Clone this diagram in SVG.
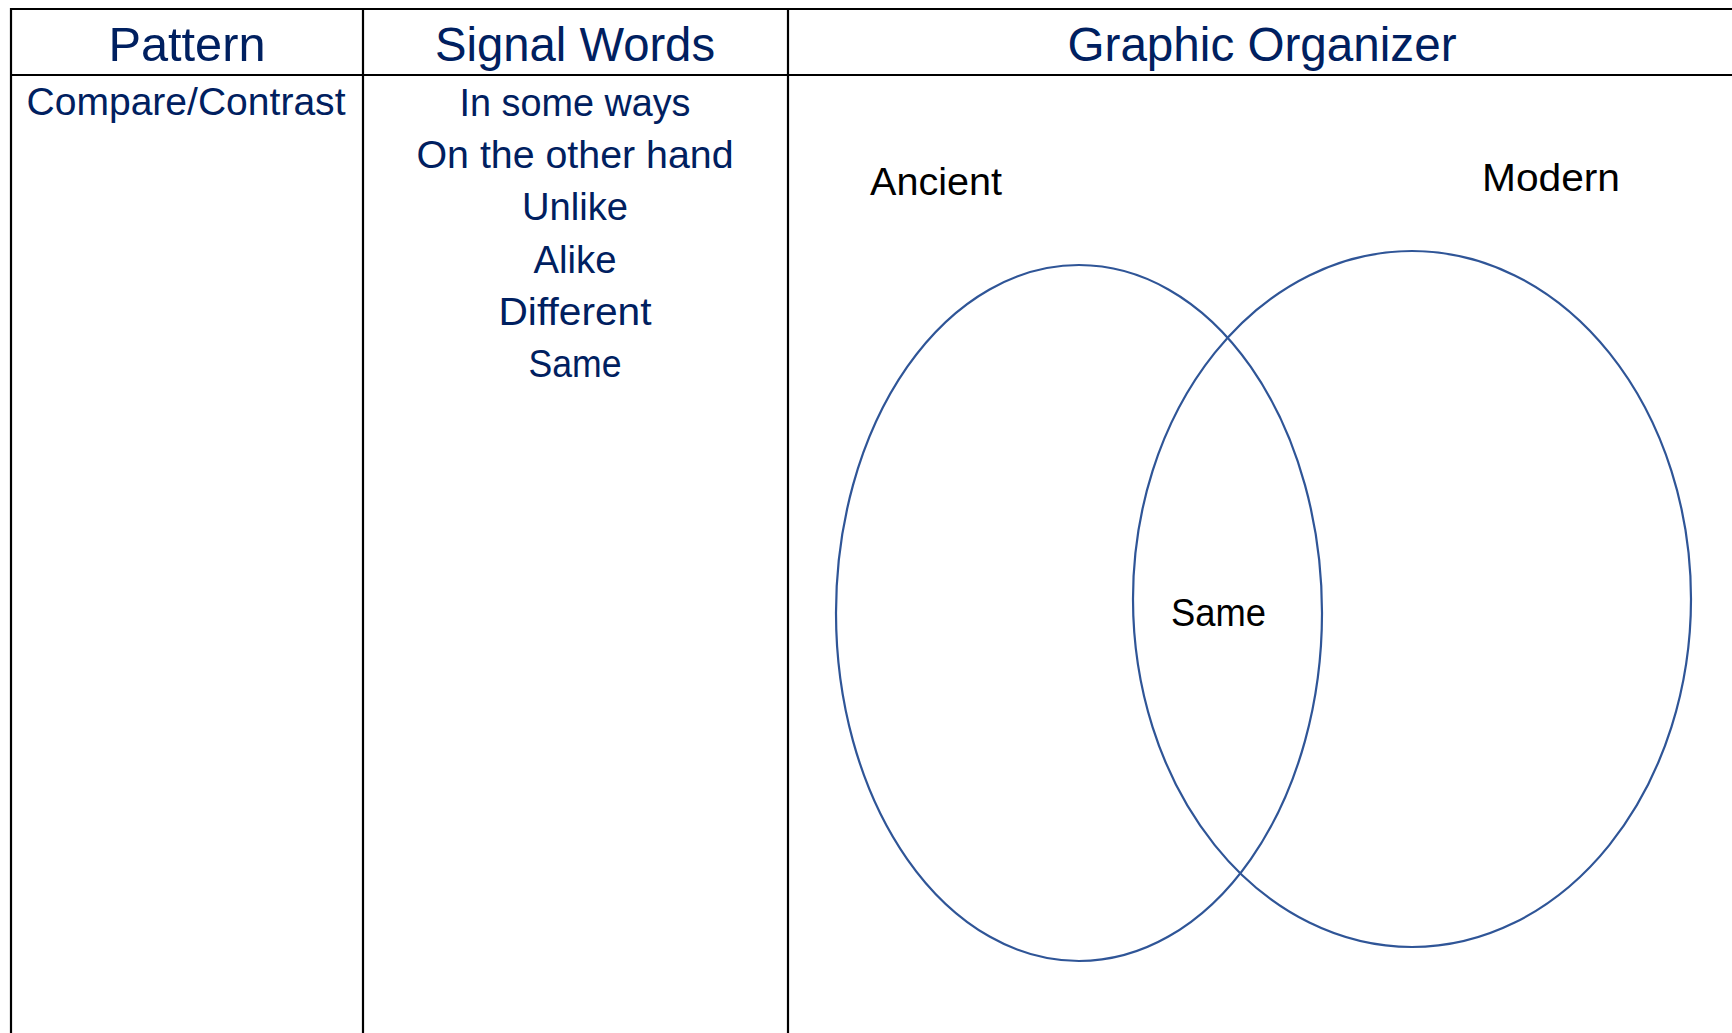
<svg xmlns="http://www.w3.org/2000/svg" width="1732" height="1033" viewBox="0 0 1732 1033">
  <style>
    .grid { stroke: #000000; stroke-width: 2.2; fill: none; }
    .head { font-family: "Liberation Sans", Arial, sans-serif; font-size: 48px; fill: #002060; text-anchor: middle; }
    .body { font-family: "Liberation Sans", Arial, sans-serif; font-size: 38px; fill: #002060; text-anchor: middle; }
    .label { font-family: "Liberation Sans", Arial, sans-serif; font-size: 38px; fill: #000000; }
    .ring { fill: none; stroke: #2F5597; stroke-width: 2.2; }
  </style>

  <rect x="0" y="0" width="1732" height="1033" fill="#ffffff"/>

  <!-- table grid -->
  <g id="table-grid">
    <line class="grid" x1="11" y1="9" x2="1732" y2="9"/>
    <line class="grid" x1="11" y1="75" x2="1732" y2="75"/>
    <line class="grid" x1="11" y1="8" x2="11" y2="1033"/>
    <line class="grid" x1="363" y1="8" x2="363" y2="1033"/>
    <line class="grid" x1="788" y1="8" x2="788" y2="1033"/>
  </g>

  <!-- column headers -->
  <g id="header-pattern">
    <text class="head" x="187" y="61" textLength="157" lengthAdjust="spacingAndGlyphs">Pattern</text>
  </g>
  <g id="header-signal-words">
    <text class="head" x="575" y="61" textLength="280" lengthAdjust="spacingAndGlyphs">Signal Words</text>
  </g>
  <g id="header-graphic-organizer">
    <text class="head" x="1262" y="61" textLength="389" lengthAdjust="spacingAndGlyphs">Graphic Organizer</text>
  </g>

  <!-- pattern cell -->
  <g id="pattern">
    <text class="body" x="186" y="115" textLength="319" lengthAdjust="spacingAndGlyphs">Compare/Contrast</text>
  </g>

  <!-- signal words cell -->
  <g id="signal-words">
    <text class="body" x="575" y="116" textLength="231" lengthAdjust="spacingAndGlyphs">In some ways</text>
    <text class="body" x="575" y="168" textLength="317" lengthAdjust="spacingAndGlyphs">On the other hand</text>
    <text class="body" x="575" y="220" textLength="106" lengthAdjust="spacingAndGlyphs">Unlike</text>
    <text class="body" x="575" y="273" textLength="83" lengthAdjust="spacingAndGlyphs">Alike</text>
    <text class="body" x="575" y="325" textLength="153" lengthAdjust="spacingAndGlyphs">Different</text>
    <text class="body" x="575" y="377" textLength="93" lengthAdjust="spacingAndGlyphs">Same</text>
  </g>

  <!-- venn diagram -->
  <g id="venn-ancient">
    <ellipse class="ring" cx="1079" cy="613" rx="243" ry="348"/>
    <text class="label" x="870" y="195" textLength="132" lengthAdjust="spacingAndGlyphs">Ancient</text>
  </g>
  <g id="venn-modern">
    <ellipse class="ring" cx="1412" cy="599" rx="279" ry="348"/>
    <text class="label" x="1482" y="191" textLength="138" lengthAdjust="spacingAndGlyphs">Modern</text>
  </g>
  <g id="venn-same">
    <text class="label" x="1171" y="626" textLength="95" lengthAdjust="spacingAndGlyphs">Same</text>
  </g>

  <g id="connectors"/>
</svg>
